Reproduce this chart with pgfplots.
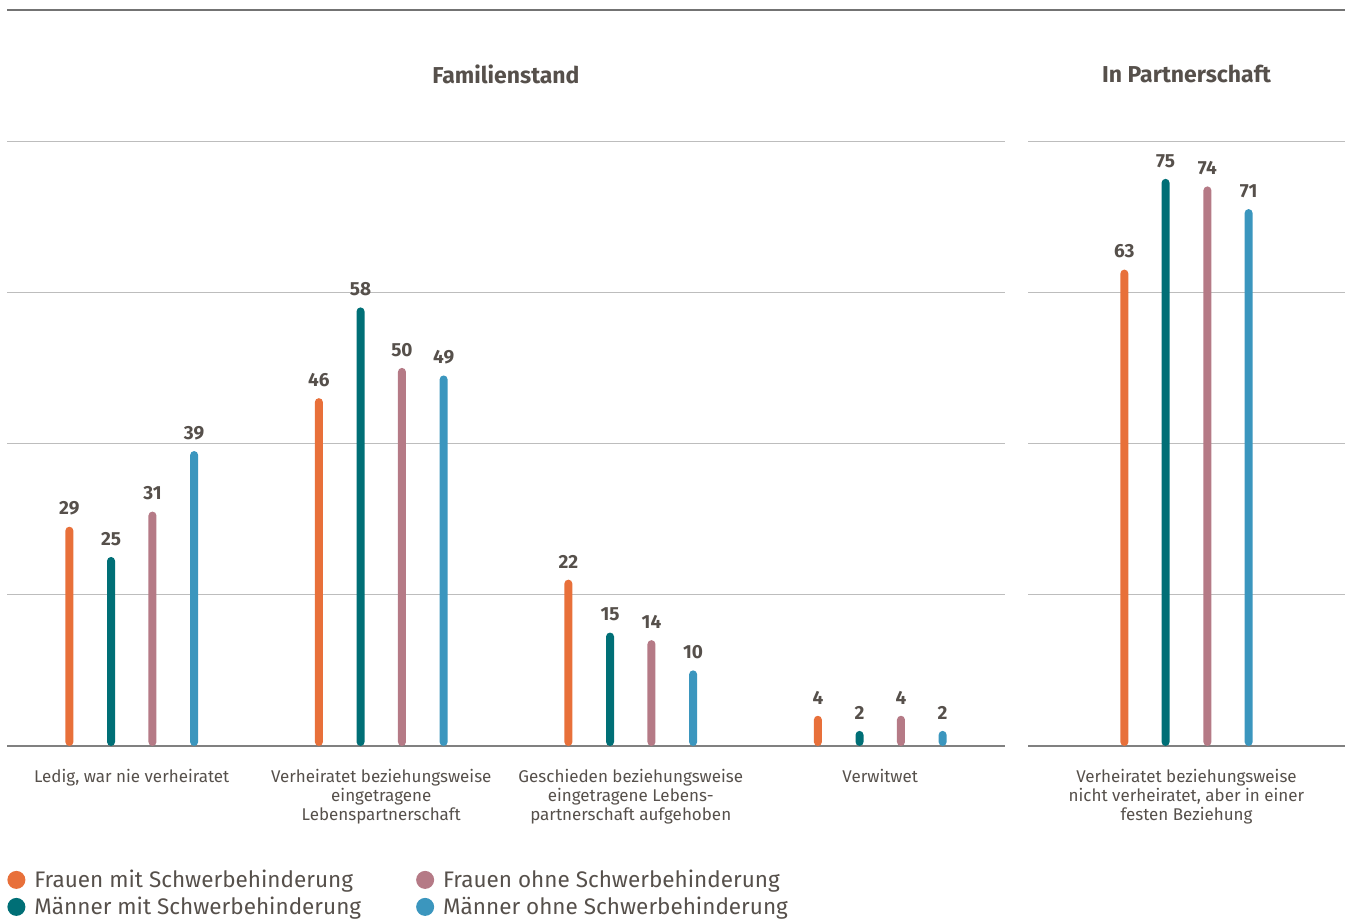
\documentclass[border=0pt]{standalone}
\usepackage{fontspec}
\setmainfont{Fira Sans}
\usepackage{pgfplots}
\pgfplotsset{compat=1.18}
\definecolor{cOr}{HTML}{E8703A}
\definecolor{cTe}{HTML}{006F76}
\definecolor{cMa}{HTML}{B57A86}
\definecolor{cBl}{HTML}{3B96BE}
\definecolor{txt}{HTML}{56504B}
\definecolor{grd}{HTML}{BDBDBD}
\pgfplotsset{
 mybase/.style={
  scale only axis, height=302.5pt, ymin=0, ymax=80,
  axis x line=bottom, axis y line=left,
  axis line style={-},
  x axis line style={draw=black!50, line width=0.8pt},
  y axis line style={draw=none},
  ytick={20,40,60,80}, yticklabels={}, ymajorgrids,
  grid style={grd, line width=0.5pt},
  major tick length=0pt,
  clip=false,
  /pgf/number format/assume math mode=true,
  every axis plot/.append style={ybar, bar width=4pt, bar shift=0pt, rounded corners=2pt, draw=none, mark=none},
  nodes near coords,
  nodes near coords style={font=\bfseries\fontsize{9.5}{10}\selectfont, text=txt, anchor=south, inner sep=0pt, yshift=5.5pt, rounded corners=0pt},
  xticklabel style={font=\fontsize{8.5}{9.5}\selectfont, text=txt, align=center, anchor=north, inner sep=0pt, yshift=-11.5pt},
  title style={font=\bfseries\fontsize{11.5}{12}\selectfont, text=txt, at={(0.5,1)}, anchor=center, yshift=27.5pt},
 }
}
\begin{document}
\begin{tikzpicture}
\clip (0,0) rectangle (675pt,459pt);
\path[use as bounding box] (0,0) rectangle (675pt,459pt);
\draw[line width=1pt, color=black!55] (3.5pt,454pt) -- (672.5pt,454pt);
\begin{axis}[mybase, width=499pt, xmin=-0.5, xmax=3.5,
  at={(3.5pt,86pt)}, anchor=south west,
  title={Familienstand},
  xtick={0,1,2,3},
  xticklabels={Ledig{,} war nie verheiratet,{Verheiratet beziehungsweise\\eingetragene\\Lebenspartnerschaft},{Geschieden beziehungsweise\\eingetragene Lebens-\\partnerschaft aufgehoben},Verwitwet},
  legend columns=2, transpose legend, legend cell align=left,
  legend image code/.code={\fill[#1] (0pt,0pt) circle (4.5pt);},
  legend style={at={(0,0)}, anchor=north west, xshift=0pt, yshift=-61pt, draw=none, fill=none,
    font=\fontsize{11.25}{13}\selectfont, text=txt, inner sep=0pt,
    nodes={inner xsep=4.5pt, inner ysep=1.5pt, text height=8pt, text depth=0.5pt},
    /tikz/every even column/.append style={column sep=23pt}, row sep=2pt},
]
\addplot[fill=cOr] coordinates {(-0.25,29) (0.75,46) (1.75,22) (2.75,4)};
\addplot[fill=cTe] coordinates {(-0.083,25) (0.917,58) (1.917,15) (2.917,2)};
\addplot[fill=cMa] coordinates {(0.083,31) (1.083,50) (2.083,14) (3.083,4)};
\addplot[fill=cBl] coordinates {(0.25,39) (1.25,49) (2.25,10) (3.25,2)};
\legend{Frauen mit Schwerbehinderung, Männer mit Schwerbehinderung, Frauen ohne Schwerbehinderung, Männer ohne Schwerbehinderung}
\end{axis}
\begin{axis}[mybase, width=158.5pt, xmin=-0.5, xmax=0.5,
  at={(514pt,86pt)}, anchor=south west,
  title={In Partnerschaft},
  xtick={0},
  xticklabels={Verheiratet beziehungsweise\\nicht verheiratet{,} aber in einer\\festen Beziehung},
]
\addplot[fill=cOr] coordinates {(-0.196,63)};
\addplot[fill=cTe] coordinates {(-0.066,75)};
\addplot[fill=cMa] coordinates {(0.066,74)};
\addplot[fill=cBl] coordinates {(0.196,71)};
\end{axis}
\end{tikzpicture}
\end{document}
